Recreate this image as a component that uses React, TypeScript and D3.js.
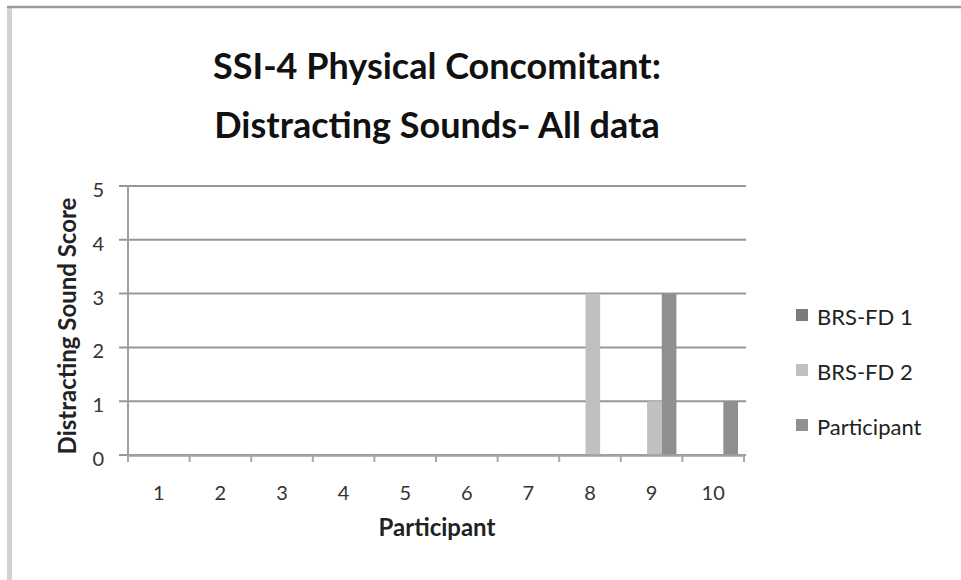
import React, { useRef, useEffect } from 'react'
import * as d3 from 'd3'

const titleLines = ['SSI-4 Physical Concomitant:', 'Distracting Sounds- All data']
const participants = ['1', '2', '3', '4', '5', '6', '7', '8', '9', '10']
const seriesNames = ['BRS-FD 1', 'BRS-FD 2', 'Participant']
const brsFd1 = [0, 0, 0, 0, 0, 0, 0, 0, 0, 0]
const brsFd2 = [0, 0, 0, 0, 0, 0, 0, 3, 1, 0]
const participantScores = [0, 0, 0, 0, 0, 0, 0, 0, 3, 1]
const yTicks = [0, 1, 2, 3, 4, 5]
const seriesColors = ['#7b7b7b', '#c0c0c0', '#8f8f8f']

const W = 961
const H = 580
const FONT = 'Lato, "Open Sans", sans-serif'

const App = () => {
  const svgRef = useRef<SVGSVGElement | null>(null)

  useEffect(() => {
    const svg = d3.select(svgRef.current).attr('width', W).attr('height', H)
    svg.selectAll('*').remove()

    // chart frame (left and top edges only)
    svg.append('rect').attr('width', W).attr('height', H).attr('fill', '#fff')
    svg.append('line').attr('x1', 9.5).attr('x2', 9.5).attr('y1', 6).attr('y2', H)
      .attr('stroke', '#d2d2d2').attr('stroke-width', 5)
    svg.append('line').attr('x1', 7).attr('x2', W).attr('y1', 7).attr('y2', 7)
      .attr('stroke', '#999').attr('stroke-width', 2.5)

    const margin = { left: 128, right: 961 - 744, top: 186, bottom: 580 - 455 }
    const x0 = d3.scaleBand().domain(participants).range([margin.left, W - margin.right]).padding(0)
    const x1 = d3.scaleBand().domain(seriesNames).range([0, x0.bandwidth()])
      .paddingInner(0).paddingOuter(0.6).align(0.66)
    const y = d3.scaleLinear().domain([0, 5]).range([H - margin.bottom, margin.top])

    // title
    svg.append('g').selectAll('text').data(titleLines).enter().append('text')
      .attr('x', 437).attr('y', (d, i) => 79 + i * 59)
      .attr('text-anchor', 'middle')
      .attr('font-family', FONT).attr('font-weight', 700).attr('font-size', 36)
      .attr('fill', '#111')
      .text((d) => d)

    // gridlines + y ticks
    svg.append('g').selectAll('line').data(yTicks).enter().append('line')
      .attr('x1', margin.left - 9).attr('x2', W - margin.right + 2)
      .attr('y1', (d) => y(d)).attr('y2', (d) => y(d))
      .attr('stroke', '#979797').attr('stroke-width', 2)

    svg.append('g').selectAll('text').data(yTicks).enter().append('text')
      .attr('x', 104).attr('y', (d) => y(d) + 11)
      .attr('text-anchor', 'end')
      .attr('font-family', FONT).attr('font-size', 20).attr('fill', '#333')
      .text((d) => d)

    // bars
    const series = [brsFd1, brsFd2, participantScores]
    series.forEach((vals, si) => {
      svg.append('g').selectAll('rect').data(vals).enter().append('rect')
        .attr('x', (d, i) => (x0(participants[i]) as number) + (x1(seriesNames[si]) as number))
        .attr('width', x1.bandwidth())
        .attr('y', (d) => y(d))
        .attr('height', (d) => y(0) - y(d))
        .attr('fill', seriesColors[si])
    })

    // y axis line
    svg.append('line').attr('x1', margin.left).attr('x2', margin.left)
      .attr('y1', y(5)).attr('y2', y(0) + 4)
      .attr('stroke', '#a0a0a0').attr('stroke-width', 2)

    // x axis
    const xAxis = svg.append('g').attr('transform', `translate(0,${y(0)})`)
      .call(d3.axisBottom(x0).tickSize(0).tickPadding(36).tickSizeOuter(0))
    xAxis.select('.domain').attr('stroke', '#a0a0a0').attr('stroke-width', 2.5)
    xAxis.selectAll('text').attr('font-family', FONT).attr('font-size', 20).attr('fill', '#333')
      .attr('dy', 0).attr('y', 45)
    const bounds = participants.map((p) => x0(p) as number).concat([W - margin.right])
    svg.append('g').selectAll('line').data(bounds).enter().append('line')
      .attr('x1', (d) => d).attr('x2', (d) => d)
      .attr('y1', y(0)).attr('y2', y(0) + 7)
      .attr('stroke', '#a8a8a8').attr('stroke-width', 2)

    // axis titles
    svg.append('text').attr('x', 437).attr('y', 536).attr('text-anchor', 'middle')
      .attr('font-family', FONT).attr('font-weight', 700).attr('font-size', 24).attr('fill', '#222')
      .text('Participant')
    svg.append('text')
      .attr('transform', 'translate(76,326) rotate(-90)')
      .attr('text-anchor', 'middle')
      .attr('font-family', FONT).attr('font-weight', 700).attr('font-size', 24).attr('fill', '#222')
      .text('Distracting Sound Score')

    // legend
    const legend = svg.append('g').selectAll('g').data(seriesNames).enter().append('g')
      .attr('transform', (d, i) => `translate(796,${309 + i * 55})`)
    legend.append('rect').attr('width', 12).attr('height', 12)
      .attr('fill', (d, i) => seriesColors[i])
    legend.append('text').attr('x', 21).attr('y', 16)
      .attr('font-family', FONT).attr('font-size', 22).attr('fill', '#222')
      .text((d) => d)
  }, [])

  return <svg ref={svgRef} style={{ position: 'absolute', left: 0, top: 0, display: 'block' }} />
}

export default App
